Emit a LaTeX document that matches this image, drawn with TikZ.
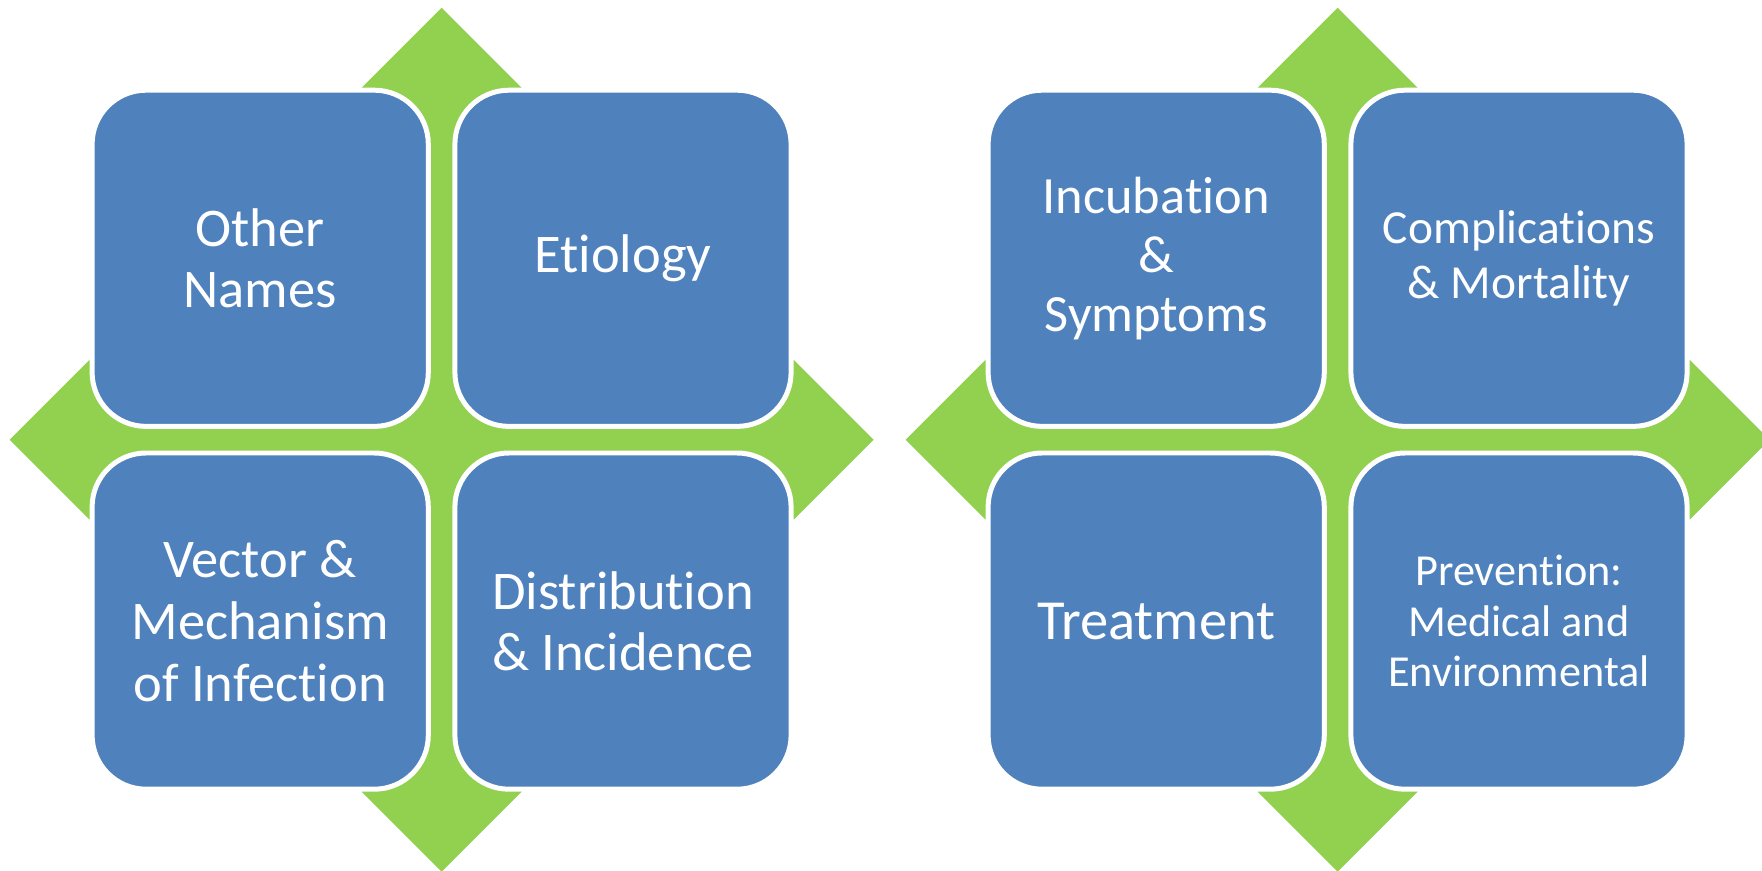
\documentclass[tikz,border=0pt]{standalone}
\usepackage{fontspec}
\setmainfont{Carlito}[Ligatures={NoCommon}]
\usepackage{xcolor}
\usetikzlibrary{positioning}

\definecolor{tileblue}{HTML}{4F81BD}
\definecolor{arrowgreen}{HTML}{92D050}

\tikzset{
  tile/.style={draw=white, line width=1.42pt, fill=tileblue, text=white,
    rounded corners=5.4mm, minimum width=33.62mm, minimum height=33.62mm,
    inner sep=0pt, align=center},
  fourway/.style={fill=arrowgreen}
}

\begin{document}
\begin{tikzpicture}[x=0.1mm, y=0.1mm]
      \useasboundingbox (0,0) rectangle (1762,871);

      % four-way arrows behind the tiles
      \fill[fourway, shift={(441.6,431.3)}] (0,432) -- (80,352) -- (80,80) -- (352,80) -- (432,0)
        -- (352,-80) -- (80,-80) -- (80,-352) -- (0,-432) -- (-80,-352) -- (-80,-80)
        -- (-352,-80) -- (-432,0) -- (-352,80) -- (-80,80) -- (-80,352) -- cycle;
      \fill[fourway, shift={(1337.6,431.3)}] (0,432) -- (80,352) -- (80,80) -- (352,80) -- (432,0)
        -- (352,-80) -- (80,-80) -- (80,-352) -- (0,-432) -- (-80,-352) -- (-80,-80)
        -- (-352,-80) -- (-432,0) -- (-352,80) -- (-80,80) -- (-80,352) -- cycle;

      % left matrix
      \node[tile, font=\fontsize{15.5}{17.5}\selectfont] (names) at (260.2,612.7) {Other\\Names};
      \node[tile, font=\fontsize{15.5}{17.5}\selectfont] (etiology) at (623.0,612.7) {Etiology};
      \node[tile, font=\fontsize{15.5}{17.5}\selectfont] (vector) at (260.2,249.9) {Vector \&\\Mechanism\\of Infection};
      \node[tile, font=\fontsize{15.5}{17.5}\selectfont] (distribution) at (623.0,249.9) {Distribution\\\& Incidence};

      % right matrix
      \node[tile, font=\fontsize{14.9}{16.8}\selectfont] (incubation) at (1156.2,612.7) {Incubation\\\&\\Symptoms};
      \node[tile, font=\fontsize{13.5}{15.4}\selectfont] (complications) at (1519.0,612.7) {Complications\\\& Mortality};
      \node[tile, font=\fontsize{16.1}{18.2}\selectfont] (treatment) at (1156.2,249.9) {Treatment};
      \node[tile, font=\fontsize{12.6}{14.3}\selectfont] (prevention) at (1519.0,249.9) {Prevention:\\Medical and\\Environmental};
    \end{tikzpicture}
\end{document}
